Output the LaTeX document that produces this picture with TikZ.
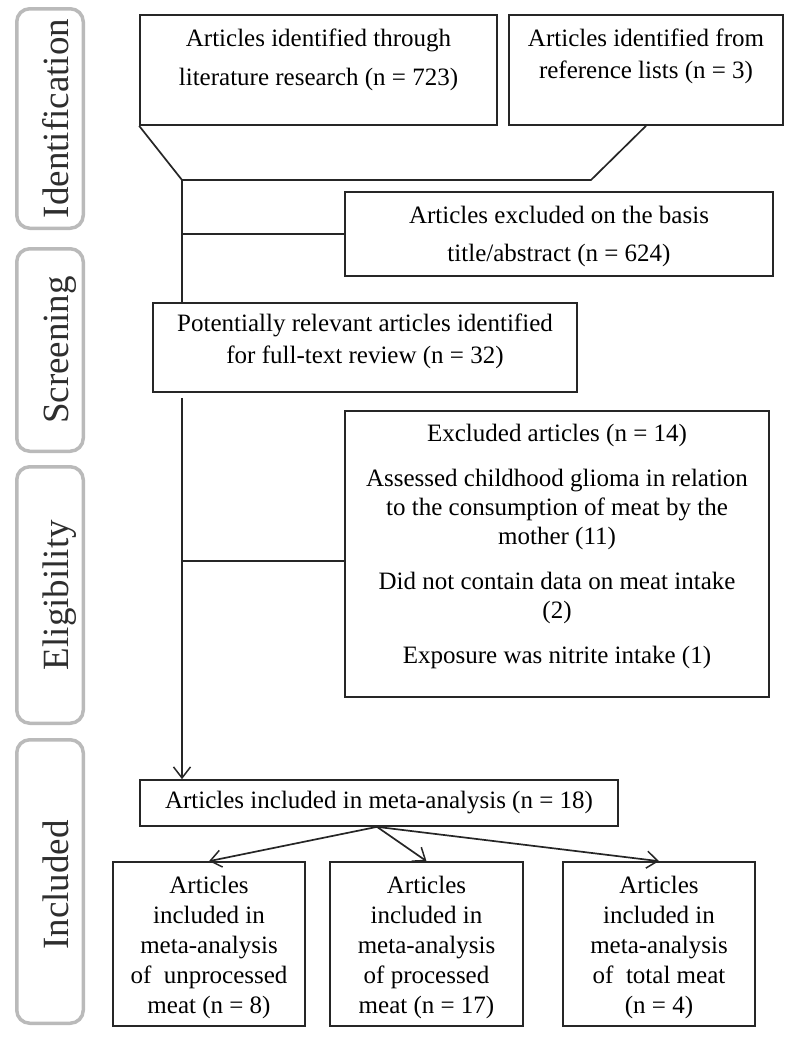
\documentclass[tikz,border=0pt]{standalone}
\usepackage{fontspec}
\setmainfont{Liberation Serif}
\usetikzlibrary{arrows.meta}
\begin{document}
\begin{tikzpicture}[x=1pt,y=-1pt,
  box/.style={draw=black!85,line width=1.7pt,inner sep=0pt},
  txt/.style={align=center,font=\fontsize{25}{29}\selectfont,inner sep=0pt,text=black},
  stage/.style={draw=black!27,line width=3.5pt,rounded corners=13pt,inner sep=0pt,minimum width=66.5pt},
  stagetxt/.style={rotate=90,anchor=base,font=\fontsize{37}{40}\selectfont,text=black!82,inner sep=0pt},
  conn/.style={draw=black!85,line width=1.7pt},
  arr/.style={conn,-{Straight Barb[length=11pt,width=17pt,line width=1.5pt]}}
]
\useasboundingbox (0,0) rectangle (795,1039);

% stage labels
\node[stage,minimum height=219.5pt] (s1) at (50,118.5) {};
\node[stage,minimum height=202.5pt] (s2) at (50,350) {};
\node[stage,minimum height=256.5pt] (s3) at (50,595) {};
\node[stage,minimum height=283.5pt] (s4) at (50,881.5) {};
\node[stagetxt] (l1) at (68,118.5) {Identification};
\node[stagetxt] (l2) at (68,350) {Screening};
\node[stagetxt] (l3) at (68,595) {Eligibility};
\node[stagetxt] (l4) at (68,885) {Included};

% boxes
\node[box,minimum width=357pt,minimum height=110pt] (b1) at (318.5,70) {};
\node[box,minimum width=274pt,minimum height=110pt] (b2) at (646,70) {};
\node[box,minimum width=428pt,minimum height=84pt] (exc1) at (559,234) {};
\node[box,minimum width=424pt,minimum height=89pt] (pot) at (365,347.5) {};
\node[box,minimum width=424pt,minimum height=286pt] (exc2) at (557,554) {};
\node[box,minimum width=478pt,minimum height=46pt] (inc) at (379,803) {};
\node[box,minimum width=192pt,minimum height=164pt] (A) at (209,944) {};
\node[box,minimum width=193pt,minimum height=164pt] (B) at (426.5,944) {};
\node[box,minimum width=192pt,minimum height=164pt] (C) at (659,944) {};

% texts
\node[txt] (t1) at (318.5,59.5) {Articles identified through\\[10pt]literature research (n = 723)};
\node[txt] (t2) at (646,56) {Articles identified from\\[3pt]reference lists (n = 3)};
\node[txt] (t3) at (559,236) {Articles excluded on the basis\\[9pt]title/abstract (n = 624)};
\node[txt] (t4) at (365,341) {Potentially relevant articles identified\\[3pt]for full-text review (n = 32)};
\node[txt] (t5) at (557,546) {Excluded articles (n = 14)\\[16pt]Assessed childhood glioma in relation\\to the consumption of meat by the\\mother (11)\\[16pt]Did not contain data on meat intake\\(2)\\[16pt]Exposure was nitrite intake (1)};
\node[txt] (t6) at (379,803) {Articles included in meta-analysis (n = 18)};
\node[txt] (tA) at (209,947) {Articles\\[1pt]included in\\[1pt]meta-analysis\\[1pt]of\ \ unprocessed\\[1pt]meat (n = 8)};
\node[txt] (tB) at (426.5,947) {Articles\\[1pt]included in\\[1pt]meta-analysis\\[1pt]of processed\\[1pt]meat (n = 17)};
\node[txt] (tC) at (659,947) {Articles\\[1pt]included in\\[1pt]meta-analysis\\[1pt]of\ \ total meat\\[1pt](n = 4)};

% connectors
\coordinate (f1) at (182,180);
\coordinate (f2) at (591,180);
\coordinate (e2) at (182,561);
\draw[conn] (b1.south west) -- (f1) -- (f2) -- (b2.south);
\draw[conn] (f1) -- (f1 |- pot.north);
\draw[conn] (f1 |- exc1.west) -- (exc1.west);
\draw[arr] ([yshift=-5pt]pot.south -| f1) -- (inc.north -| f1);
\draw[conn] (e2) -- (e2 -| exc2.west);
\coordinate (o) at ([xshift=-2pt]inc.south);
\draw[arr] (o) -- (A.north);
\draw[arr] (o) -- (B.north);
\draw[arr] (o) -- (C.north);
\end{tikzpicture}
\end{document}
